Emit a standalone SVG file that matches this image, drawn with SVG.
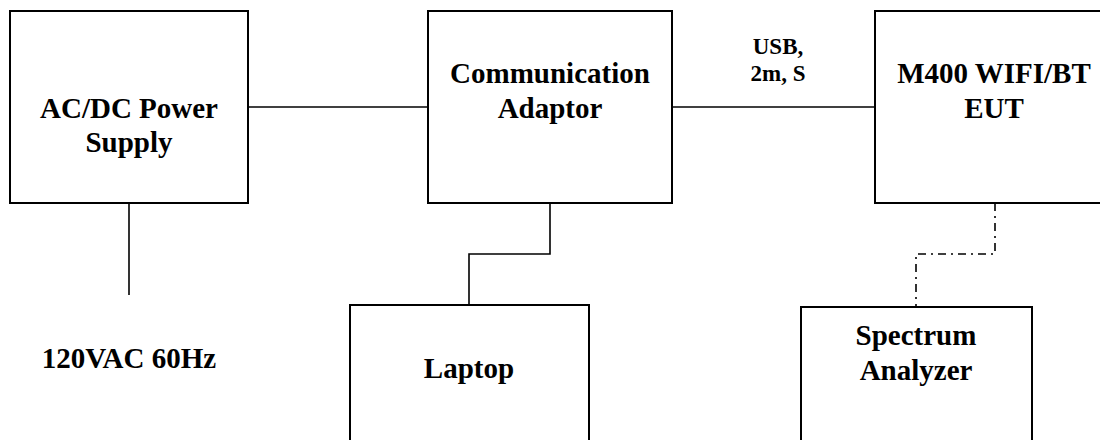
<svg xmlns="http://www.w3.org/2000/svg" width="1100" height="440" viewBox="0 0 1100 440">
<style>
.box{fill:#fff;stroke:#000;stroke-width:2}
.t{font-family:"Liberation Serif","Times New Roman",serif;font-weight:bold;font-size:29px;fill:#000;text-anchor:middle}
.s{font-size:23px}
.c{fill:none;stroke:#000;stroke-width:1.6}
.dd{fill:none;stroke:#000;stroke-width:1.6;stroke-dasharray:8 5 2 5}
</style>
<rect width="1100" height="440" fill="#fff"/>
<g id="connectors">
<line class="c" x1="248" y1="107" x2="428" y2="107"/>
<line class="c" x1="672" y1="107" x2="875" y2="107"/>
<line class="c" x1="129" y1="203" x2="129" y2="295"/>
<polyline class="c" points="550,203 550,254 469,254 469,305"/>
<polyline class="dd" points="995,203 995,254 916,254 916,307"/>
<text class="t s" x="778" y="54">USB,</text>
<text class="t s" x="778" y="81">2m, S</text>
</g>
<g id="power">
<rect class="box" x="10" y="11" width="238" height="192"/>
<text class="t" x="129" y="118">AC/DC Power</text>
<text class="t" x="129" y="152">Supply</text>
</g>
<g id="adaptor">
<rect class="box" x="428" y="11" width="244" height="192"/>
<text class="t" x="550" y="83">Communication</text>
<text class="t" x="550" y="118">Adaptor</text>
</g>
<g id="eut">
<rect class="box" x="875" y="11" width="238" height="192"/>
<text class="t" x="994" y="83">M400 WIFI/BT</text>
<text class="t" x="994" y="118">EUT</text>
</g>
<g id="laptop">
<rect class="box" x="350" y="305" width="239" height="150"/>
<text class="t" x="469" y="378">Laptop</text>
</g>
<g id="analyzer">
<rect class="box" x="801" y="307" width="231" height="150"/>
<text class="t" x="916" y="345">Spectrum</text>
<text class="t" x="916" y="380">Analyzer</text>
</g>
<g id="mains">
<text class="t" x="129" y="368">120VAC 60Hz</text>
</g>
</svg>
